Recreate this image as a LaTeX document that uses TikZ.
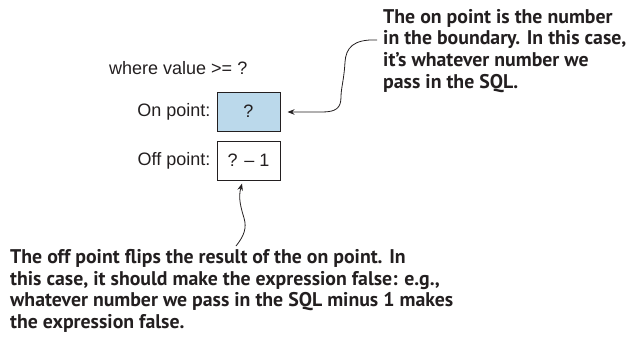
\documentclass[tikz,border=0pt]{standalone}
\usepackage{fontspec}
\setmainfont{Liberation Sans}
\newfontfamily\notefont{PT Sans}
\usetikzlibrary{positioning,arrows.meta}
\definecolor{onblue}{HTML}{BBD9EB}
\definecolor{inkgray}{HTML}{231F20}
\tikzset{
  pointbox/.style={draw=inkgray,line width=1pt,minimum width=63pt,minimum height=39pt,
    inner sep=0pt,font=\fontsize{18}{20}\selectfont,text=inkgray},
  pointlbl/.style={inner sep=0pt,font=\fontsize{18}{20}\selectfont,text=inkgray},
  notetext/.style={align=left,anchor=north west,inner sep=0pt,text=inkgray,
    font=\notefont\bfseries\fontsize{19.8}{21.7}\selectfont},
  callout/.style={draw=inkgray,line width=0.8pt,-{Stealth[length=7pt,width=5.5pt]}}
}
\begin{document}
\begin{tikzpicture}[x=1pt,y=-1pt]
 \useasboundingbox (0,0) rectangle (644,345);
 \node[pointlbl,anchor=west] (where) at (109,68) {where value >= ?};
 \node[pointbox,fill=onblue] (on) at (248.5,111.5) {?};
 \node[pointbox] (off) at (248.5,160.5) {? -- 1};
 \node[pointlbl,left=6pt of on] (onlbl) {On point:};
 \node[pointlbl,left=6pt of off] (offlbl) {Off point:};
 % callout texts
 \node[notetext] (onnote) at (383,9) {The on point is the number\\in the boundary. In this case,\\it’s whatever number we\\pass in the SQL.};
 \node[notetext] (offnote) at (10,249) {The off point flips the result of the on point. In\\this case, it should make the expression false: e.g.,\\whatever number we pass in the SQL minus 1 makes\\the expression false.};
 % wavy connectors
 \coordinate (onstart) at (377,40);
 \coordinate (offstart) at (236,246);
 \draw[callout,shorten >=7pt] (onstart) .. controls (353,39) and (346,48) .. (345,62)
   .. controls (344,80) and (341,88) .. (341,97)
   .. controls (341,108) and (336,112) .. (322,112) -- (on.east |- 0,112);
 \draw[callout] (offstart) .. controls (244,236) and (247,228) .. (244,218)
   .. controls (241,208) and (238,198) .. ([xshift=-6.5pt,yshift=-3pt]off.south);
\end{tikzpicture}
\end{document}
